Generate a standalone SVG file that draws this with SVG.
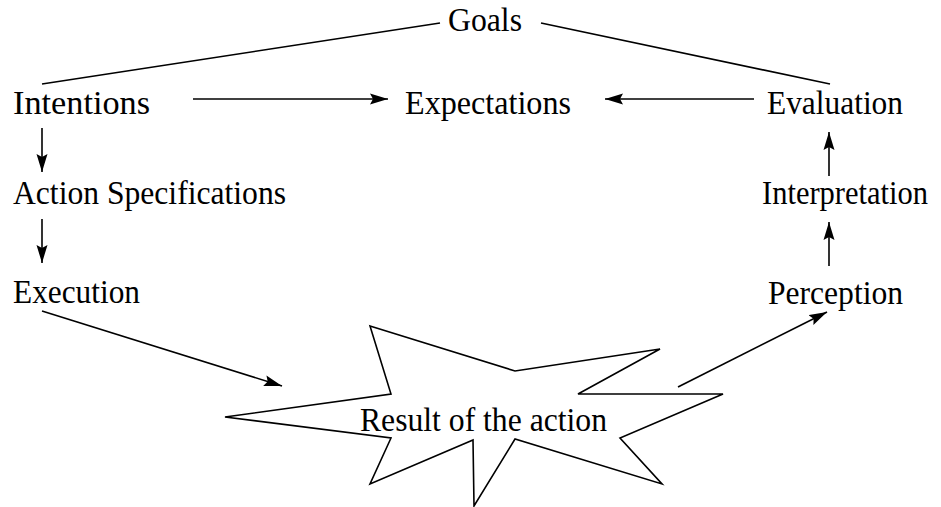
<svg xmlns="http://www.w3.org/2000/svg" width="941" height="507" viewBox="0 0 941 507">
<style>
text{font-family:"Liberation Serif","Times New Roman",serif;font-size:33px;fill:#000}
.c line{stroke:#000;stroke-width:1.6;fill:none}
.star{fill:#fff;stroke:#000;stroke-width:1.6;stroke-linejoin:miter}
</style>
<defs>
<marker id="ah" markerUnits="userSpaceOnUse" markerWidth="18" markerHeight="12" refX="18" refY="6" orient="auto">
<path d="M0,0.5 L18,6 L0,11.5 L3,6 Z" fill="#000"/>
</marker>
</defs>
<rect width="941" height="507" fill="#fff"/>
<g id="result">
<polygon class="star" points="370,326 515,371 660,349 578,394 723,394 620,438 662,484 515,439 474,506 473,440 370,484 391,438 225,417 391,394"/>
<text x="360" y="431" textLength="247" lengthAdjust="spacingAndGlyphs">Result of the action</text>
</g>
<g id="goals"><text x="448" y="31" textLength="74" lengthAdjust="spacingAndGlyphs">Goals</text></g>
<g id="intentions"><text x="13" y="114" textLength="137" lengthAdjust="spacingAndGlyphs">Intentions</text></g>
<g id="expectations"><text x="405" y="114" textLength="166" lengthAdjust="spacingAndGlyphs">Expectations</text></g>
<g id="evaluation"><text x="767" y="114" textLength="136" lengthAdjust="spacingAndGlyphs">Evaluation</text></g>
<g id="actionspec"><text x="13" y="204" textLength="273" lengthAdjust="spacingAndGlyphs">Action Specifications</text></g>
<g id="interpretation"><text x="762" y="204" font-size="32" textLength="166" lengthAdjust="spacingAndGlyphs">Interpretation</text></g>
<g id="execution"><text x="13" y="303" textLength="127" lengthAdjust="spacingAndGlyphs">Execution</text></g>
<g id="perception"><text x="768" y="304" textLength="135" lengthAdjust="spacingAndGlyphs">Perception</text></g>
<g class="c" id="connectors">
<line x1="42" y1="84" x2="440" y2="23"/>
<line x1="541" y1="23" x2="830" y2="84"/>
<line x1="193" y1="99" x2="388" y2="99" marker-end="url(#ah)"/>
<line x1="754" y1="99" x2="605" y2="99" marker-end="url(#ah)"/>
<line x1="42" y1="128" x2="42" y2="172" marker-end="url(#ah)"/>
<line x1="42" y1="219" x2="42" y2="263" marker-end="url(#ah)"/>
<line x1="829" y1="176" x2="829" y2="132" marker-end="url(#ah)"/>
<line x1="829" y1="266" x2="829" y2="222" marker-end="url(#ah)"/>
<line x1="42" y1="311" x2="282" y2="386" marker-end="url(#ah)"/>
<line x1="678" y1="387" x2="827" y2="312" marker-end="url(#ah)"/>
</g>
</svg>
